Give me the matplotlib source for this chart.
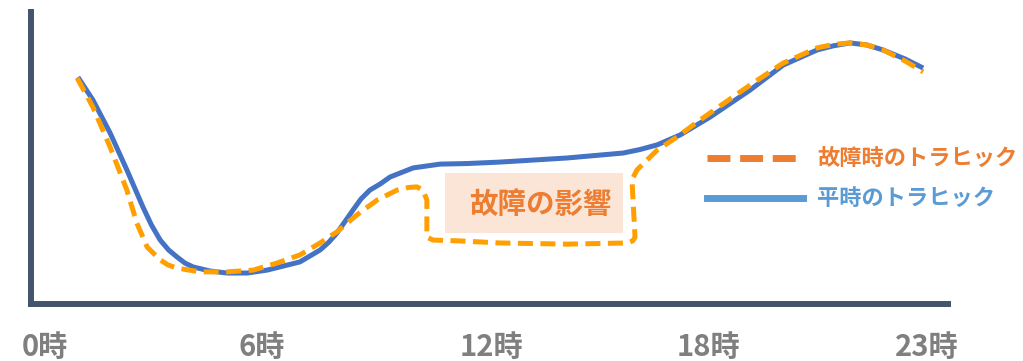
import matplotlib
matplotlib.use("Agg")
from matplotlib import pyplot as plt
from matplotlib.patches import Rectangle
from matplotlib.lines import Line2D

plt.rcParams["font.family"] = ["Noto Sans CJK JP", "DejaVu Sans"]

# normal traffic (hour, volume)
normal_hours = [0.86, 1.25, 1.70, 2.14, 2.56, 2.78, 3.01, 3.23, 3.45, 3.66, 3.87, 4.31,
                4.76, 5.28, 5.80, 6.14, 6.66, 7.19, 7.42, 7.63, 8.05, 8.26, 8.49, 8.76,
                9.02, 9.62, 10.32, 11.03, 11.89, 13.64, 15.11, 15.55, 16.00, 16.60,
                17.38, 18.43, 19.29, 20.18, 20.60, 21.04, 21.48, 21.90, 22.48, 22.95]
normal_volume = [77.7, 69.9, 58.6, 45.9, 33.2, 27.1, 21.9, 18.5, 16.1, 14.0, 12.7, 11.3,
                 10.6, 10.6, 11.6, 12.7, 14.4, 18.5, 21.2, 24.3, 32.2, 36.0, 39.0, 41.1,
                 43.5, 46.6, 47.9, 48.1, 48.6, 50.0, 51.7, 52.9, 54.5, 57.9,
                 64.0, 73.3, 81.8, 87.0, 88.4, 89.4, 88.7, 87.0, 83.9, 80.8]

# traffic during the failure
fault_hours = [0.84, 1.25, 1.70, 2.14, 2.40, 2.67, 3.01, 3.21, 3.45, 4.05, 4.76, 5.44,
               6.06, 6.66, 7.19, 7.63, 8.15, 8.68, 9.20, 9.50, 9.72, 9.88, 9.98, 9.98,
               10.14, 10.85, 11.89, 13.64, 15.21, 15.36, 15.42, 15.34, 15.47, 16.00,
               16.52, 17.12, 17.38, 18.43, 19.29, 20.18, 20.60, 21.04, 21.48, 21.90,
               22.48, 22.95]
fault_volume = [77.4, 67.5, 53.8, 39.0, 27.7, 19.5, 15.1, 13.4, 12.3, 11.0, 11.0, 11.6,
                14.0, 16.8, 20.9, 24.7, 30.5, 35.6, 39.0, 39.9, 40.1, 39.0, 35.6, 22.9,
                21.9, 21.6, 20.9, 20.5, 20.9, 21.6, 22.9, 42.5, 45.9, 52.7,
                57.2, 63.0, 65.4, 75.0, 82.5, 87.7, 88.9, 89.4, 88.7, 87.0,
                83.2, 79.5]

tick_pos = [0, 5.65, 11.66, 17.35, 23.05]
tick_labels = ["0時", "6時", "12時", "18時", "23時"]

fig = plt.figure(figsize=(10.23, 3.61), dpi=100)
ax = fig.add_axes([0.0303, 0.1579, 0.8964, 0.8089])

ax.plot(normal_hours, normal_volume, color="#4472C4", lw=3.6,
        solid_capstyle="butt", solid_joinstyle="round")
ax.plot(fault_hours, fault_volume, color="#FFA000", lw=3.6, dashes=(3, 1.5),
        dash_capstyle="butt", dash_joinstyle="round")

# impact box
ax.add_patch(Rectangle((10.45, 24.3), 4.66, 20.6, facecolor="#FBE5D6",
                       edgecolor="none", zorder=0))
ax.text(12.94, 33.9, "故障の影響", color="#ED7D31", fontsize=20.5,
        fontweight="bold", ha="center", va="center")

# legend drawn by hand
ax.add_line(Line2D([17.31, 19.80], [50.0, 50.0], color="#ED7D31", lw=5,
                   dashes=(3.3, 1.4)))
ax.add_line(Line2D([17.31, 19.80], [36.3, 36.3], color="#5B9BD5", lw=5))
ax.text(20.18, 50.0, "故障時のトラヒック", color="#ED7D31", fontsize=16,
        fontweight="bold", va="center", ha="left", clip_on=False)
ax.text(20.18, 36.3, "平時のトラヒック", color="#5B9BD5", fontsize=16,
        fontweight="bold", va="center", ha="left", clip_on=False)

ax.set_xlim(-0.366, 23.6)
ax.set_ylim(0, 100)
ax.set_xticks(tick_pos)
ax.set_xticklabels(tick_labels, color="#7F7F7F", fontsize=21, fontweight="bold")
ax.tick_params(axis="x", length=0, pad=20)
ax.set_yticks([])

for side in ["top", "right"]:
    ax.spines[side].set_visible(False)
for side in ["left", "bottom"]:
    ax.spines[side].set_color("#44546A")
    ax.spines[side].set_linewidth(4.3)
    ax.spines[side].set_capstyle("projecting")

fig.savefig("out.png", dpi=100)
